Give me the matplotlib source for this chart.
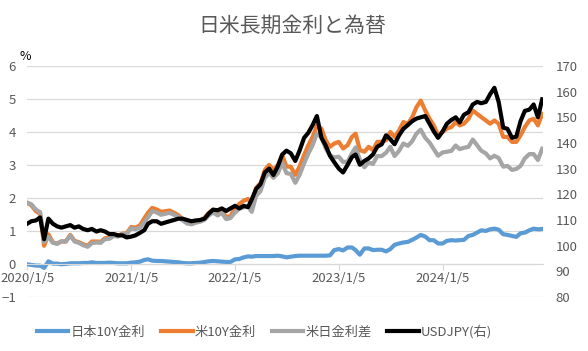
import matplotlib
matplotlib.use('Agg')

import matplotlib.pyplot as plt
import numpy as np
import pandas as pd

plt.rcParams['font.family'] = ['Noto Sans CJK JP', 'DejaVu Sans']

# semi-monthly observations, 2020/1 - 2024/12
dates = pd.to_datetime([f"{y}-{m:02d}-{d:02d}" for y in range(2020, 2025)
                        for m in range(1, 13) for d in (5, 20)])

us10y = [
    1.85, 1.78, 1.60, 1.52, 0.55, 0.90, 0.65, 0.62, 0.68, 0.68, 0.88, 0.70,
    0.66, 0.60, 0.55, 0.68, 0.68, 0.67, 0.78, 0.80, 0.88, 0.85, 0.92, 0.93,
    1.12, 1.10, 1.17, 1.38, 1.55, 1.70, 1.65, 1.58, 1.60, 1.62, 1.55, 1.48,
    1.35, 1.25, 1.22, 1.28, 1.32, 1.40, 1.55, 1.65, 1.55, 1.62, 1.42, 1.45,
    1.70, 1.82, 1.92, 1.97, 1.80, 2.30, 2.45, 2.85, 3.00, 2.85, 3.00, 3.30,
    2.95, 2.95, 2.70, 2.95, 3.30, 3.60, 3.85, 4.20, 4.10, 3.75, 3.55, 3.65,
    3.70, 3.50, 3.60, 3.85, 3.95, 3.45, 3.40, 3.55, 3.45, 3.70, 3.70, 3.75,
    4.00, 3.85, 4.05, 4.30, 4.25, 4.45, 4.75, 4.95, 4.65, 4.40, 4.20, 3.90,
    4.00, 4.10, 4.15, 4.30, 4.20, 4.25, 4.40, 4.65, 4.55, 4.45, 4.35, 4.25,
    4.35, 4.25, 3.85, 3.85, 3.70, 3.70, 3.90, 4.15, 4.35, 4.40, 4.20, 4.55,
]

jp10y = [
    -0.01, -0.03, -0.05, -0.05, -0.12, 0.08, 0.01, 0.01, -0.01, 0.00, 0.02, 0.02,
    0.02, 0.03, 0.03, 0.05, 0.03, 0.03, 0.03, 0.04, 0.03, 0.02, 0.02, 0.02,
    0.04, 0.05, 0.07, 0.12, 0.14, 0.10, 0.09, 0.09, 0.08, 0.07, 0.06, 0.05,
    0.03, 0.02, 0.02, 0.03, 0.04, 0.06, 0.08, 0.09, 0.08, 0.07, 0.06, 0.06,
    0.14, 0.15, 0.20, 0.23, 0.22, 0.24, 0.24, 0.24, 0.24, 0.24, 0.25, 0.23,
    0.20, 0.22, 0.24, 0.25, 0.25, 0.25, 0.25, 0.25, 0.25, 0.25, 0.26, 0.42,
    0.45, 0.41, 0.50, 0.50, 0.42, 0.28, 0.47, 0.47, 0.42, 0.43, 0.43, 0.38,
    0.45, 0.58, 0.62, 0.65, 0.67, 0.73, 0.80, 0.88, 0.83, 0.72, 0.72, 0.62,
    0.62, 0.70, 0.72, 0.71, 0.72, 0.73, 0.85, 0.88, 0.95, 1.02, 1.00, 1.05,
    1.07, 1.04, 0.90, 0.88, 0.85, 0.82, 0.93, 0.95, 1.02, 1.07, 1.05, 1.06,
]

spread = [
    1.86, 1.81, 1.65, 1.57, 0.67, 0.82, 0.64, 0.61, 0.69, 0.68, 0.86, 0.68,
    0.64, 0.57, 0.52, 0.63, 0.65, 0.64, 0.75, 0.76, 0.85, 0.83, 0.90, 0.91,
    1.08, 1.05, 1.10, 1.26, 1.41, 1.60, 1.56, 1.49, 1.52, 1.55, 1.49, 1.43,
    1.32, 1.23, 1.20, 1.25, 1.28, 1.34, 1.47, 1.56, 1.47, 1.55, 1.36, 1.39,
    1.56, 1.67, 1.72, 1.74, 1.58, 2.06, 2.21, 2.61, 2.76, 2.61, 2.75, 3.07,
    2.75, 2.73, 2.46, 2.70, 3.05, 3.35, 3.60, 3.95, 3.85, 3.50, 3.29, 3.23,
    3.25, 3.09, 3.10, 3.35, 3.53, 3.17, 2.93, 3.08, 3.03, 3.27, 3.27, 3.37,
    3.55, 3.27, 3.43, 3.65, 3.58, 3.72, 3.95, 4.07, 3.82, 3.68, 3.48, 3.28,
    3.38, 3.40, 3.43, 3.59, 3.48, 3.52, 3.55, 3.77, 3.60, 3.43, 3.35, 3.20,
    3.28, 3.21, 2.95, 2.97, 2.85, 2.88, 2.97, 3.20, 3.33, 3.33, 3.15, 3.49,
]

usdjpy = [
    108.5, 109.5, 109.8, 111.0, 102.5, 110.5, 108.5, 107.5, 107.0, 107.5, 108.0, 107.0,
    107.5, 106.5, 106.0, 106.5, 105.5, 106.0, 105.5, 104.5, 104.5, 104.0, 104.0, 103.2,
    103.5, 104.0, 105.0, 106.0, 108.5, 109.5, 109.5, 108.5, 109.0, 109.5, 110.0, 110.5,
    110.5, 110.0, 109.5, 109.8, 110.0, 110.5, 112.5, 114.0, 113.8, 114.5, 113.5, 114.5,
    115.5, 114.5, 115.5, 115.0, 118.0, 122.0, 124.0, 128.5, 130.0, 127.5, 131.0, 135.5,
    137.0, 136.0, 133.0, 137.0, 142.0, 144.0, 147.0, 150.5, 142.0, 139.0, 135.0, 132.5,
    130.0, 128.5, 131.5, 134.5, 135.5, 131.5, 133.0, 134.0, 135.5, 138.5, 139.5, 143.0,
    141.5, 139.5, 143.0, 145.5, 147.0, 148.5, 149.5, 150.0, 150.5, 147.5, 144.5, 142.0,
    144.5, 147.5, 149.0, 150.0, 148.0, 151.0, 152.0, 155.0, 156.0, 155.5, 156.0, 159.0,
    161.5, 156.0, 146.0, 145.5, 142.0, 142.5, 148.5, 152.5, 153.0, 155.0, 150.0, 157.0,
]

series_names = ["日本10Y金利", "米10Y金利", "米日金利差", "USDJPY(右)"]
tick_dates = pd.to_datetime(["2020-01-05", "2021-01-05", "2022-01-05",
                             "2023-01-05", "2024-01-05"])
tick_labels = ["2020/1/5", "2021/1/5", "2022/1/5", "2023/1/5", "2024/1/5"]

txt = '#595959'
grid_c = '#d9d9d9'

fig = plt.figure(figsize=(5.88, 3.51), dpi=100)
ax = fig.add_axes([0.046, 0.154, 0.878, 0.658])
ax2 = ax.twinx()

lw = 3.0
ax.plot(dates, jp10y, color='#5B9BD5', lw=lw, label=series_names[0])
ax.plot(dates, us10y, color='#ED7D31', lw=lw, label=series_names[1])
ax.plot(dates, spread, color='#A5A5A5', lw=lw, label=series_names[2])
ax2.plot(dates, usdjpy, color='black', lw=lw, label=series_names[3])

ax.set_ylim(-1, 6)
ax.set_yticks(range(-1, 7))
ax2.set_ylim(80, 170)
ax2.set_yticks(range(80, 171, 10))
ax.set_xlim(pd.Timestamp("2020-01-05"), pd.Timestamp("2024-12-24"))

ax.grid(axis='y', color=grid_c, lw=0.9)
ax.set_axisbelow(True)
for a in (ax, ax2):
    for s in ('top', 'left', 'right'):
        a.spines[s].set_visible(False)
ax2.spines['bottom'].set_visible(False)
ax.spines['bottom'].set_position(('data', 0))
ax.spines['bottom'].set_color(grid_c)

ax.set_xticks(tick_dates)
ax.set_xticklabels(tick_labels)
ax.tick_params(axis='x', colors=grid_c, length=4, width=0.9, labelcolor=txt,
               labelsize=9.5, pad=2)
ax.tick_params(axis='y', length=0, labelcolor=txt, labelsize=9.5, pad=8)
ax2.tick_params(axis='y', length=0, labelcolor=txt, labelsize=9.5, pad=9)

fig.text(0.034, 0.84, "%", color='black', fontsize=9, ha='left', va='center')
fig.text(0.497, 0.925, "日米長期金利と為替", color=txt, fontsize=15,
         ha='center', va='center')

h1, l1 = ax.get_legend_handles_labels()
h2, l2 = ax2.get_legend_handles_labels()
fig.legend(h1 + h2, l1 + l2, loc='center', bbox_to_anchor=(0.45, 0.055),
           ncol=4, frameon=False, fontsize=9.5, labelcolor=txt,
           handlelength=2.4, handletextpad=0.15, columnspacing=1.2)

plt.savefig("out.png", dpi=100)
